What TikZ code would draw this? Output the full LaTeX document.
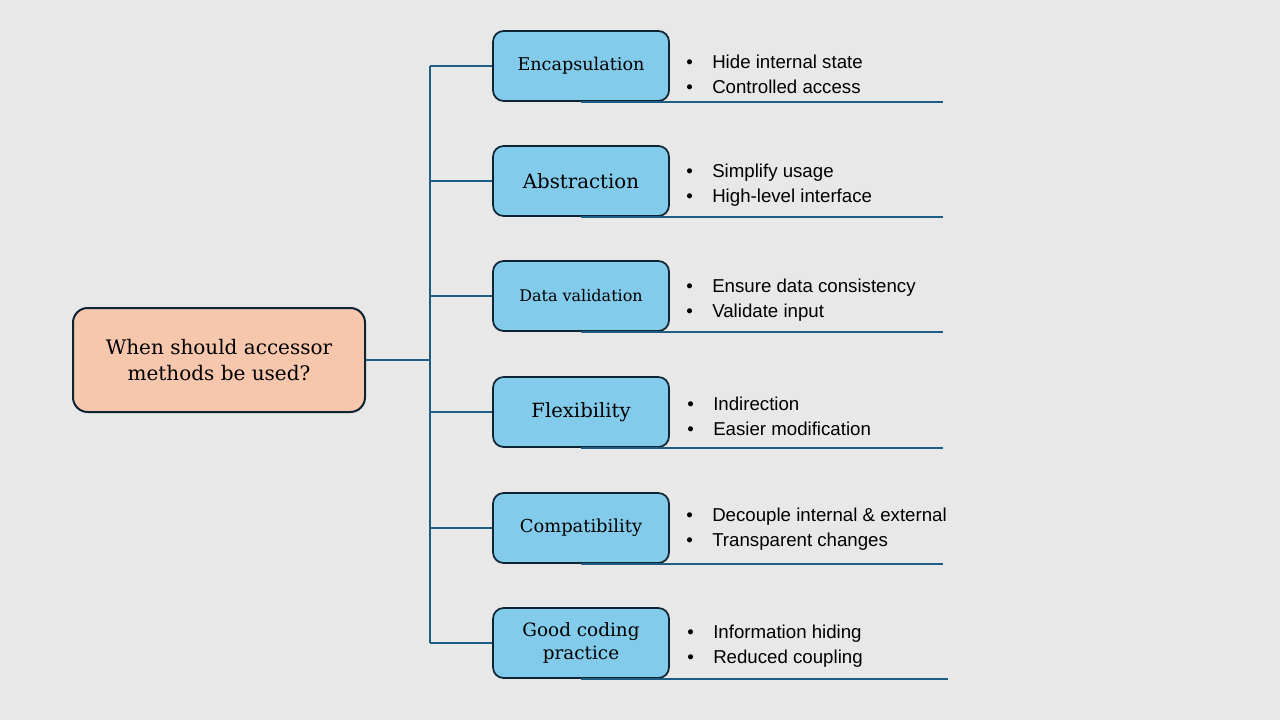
\documentclass[tikz,border=0pt]{standalone}
\usepackage{fontspec}
\setmainfont{DejaVu Serif}
\newfontfamily\bulletfont{Liberation Sans}
\definecolor{bgc}{HTML}{E8E8E8}
\definecolor{peach}{HTML}{F6C6AD}
\definecolor{skyb}{HTML}{83CBEB}
\definecolor{navy}{HTML}{0E2433}
\definecolor{linec}{HTML}{1D5E85}
\begin{document}
\begin{tikzpicture}[x=0.75pt,y=-0.75pt,
  rootbox/.style={draw=navy,line width=1.5pt,fill=peach,rounded corners=11pt,minimum width=219pt,minimum height=78pt,align=center,inner sep=0pt},
  topicbox/.style={draw=navy,line width=1.3pt,fill=skyb,rounded corners=8pt,minimum width=132pt,minimum height=52.5pt,align=center,inner sep=0pt},
  conn/.style={draw=linec,line width=1.3pt},
  bullets/.style={anchor=west,align=left,inner sep=0pt,font=\bulletfont\fontsize{14pt}{18.75pt}\selectfont}
]
\fill[bgc] (0,0) rectangle (1280,720);
\useasboundingbox (0,0) rectangle (1280,720);
\newcommand{\bl}[1]{\makebox[19.5pt][l]{\textbullet}#1}

\node[rootbox,font=\fontsize{15pt}{20pt}\selectfont] (root) at (219,360) {When should accessor\\methods be used?};

\coordinate (hub) at (430,360);
\coordinate (vtop) at (430,66);
\coordinate (vbot) at (430,643);

\node[topicbox,font=\fontsize{13.2pt}{16pt}\selectfont] (b1) at (581,66) {Encapsulation};
\node[topicbox,font=\fontsize{14.8pt}{16pt}\selectfont] (b2) at (581,181) {Abstraction};
\node[topicbox,font=\fontsize{12pt}{16pt}\selectfont] (b3) at (581,296) {Data validation};
\node[topicbox,font=\fontsize{14.7pt}{16pt}\selectfont] (b4) at (581,412) {Flexibility};
\node[topicbox,font=\fontsize{13.4pt}{16pt}\selectfont] (b5) at (581,528) {Compatibility};
\node[topicbox,font=\fontsize{13.8pt}{17pt}\selectfont] (b6) at (581,643) {Good coding\\practice};

\draw[conn] (root.east) -- (hub);
\draw[conn] (vtop) -- (vbot);
\foreach \b/\y in {b1/66,b2/181,b3/296,b4/412,b5/528,b6/643}{
  \coordinate (j\b) at (430,\y);
  \draw[conn] (j\b) -- (\b.west);
}

\foreach \b/\l in {b1/362,b2/362,b3/362,b4/362,b5/362,b6/367}{
  \draw[conn] (\b.south) -- ++(\l,0);
}

\node[bullets] (t1) at (686,74) {\bl{Hide internal state}\\\bl{Controlled access}};
\node[bullets] (t2) at (686,185) {\bl{Simplify usage}\\\bl{High-level interface}};
\node[bullets] (t3) at (686,300.5) {\bl{Ensure data consistency}\\\bl{Validate input}};
\node[bullets] (t4) at (687,416) {\bl{Indirection}\\\bl{Easier modification}};
\node[bullets] (t5) at (686,529) {\bl{Decouple internal \& external}\\\bl{Transparent changes}};
\node[bullets] (t6) at (687,646) {\bl{Information hiding}\\\bl{Reduced coupling}};
\end{tikzpicture}
\end{document}
